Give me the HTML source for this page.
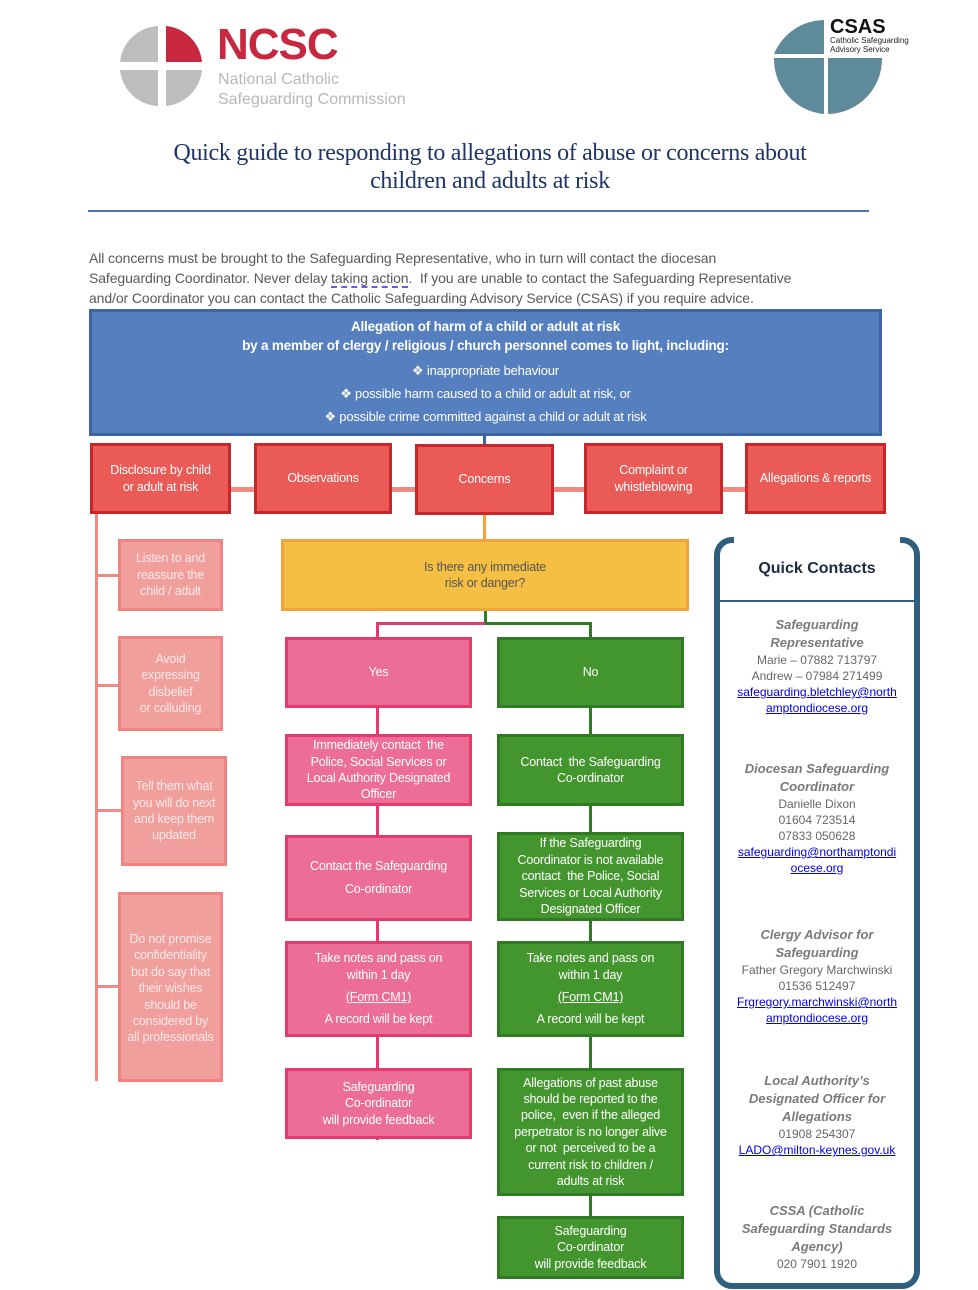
<!DOCTYPE html>
<html><head><meta charset="utf-8"><style>
*{margin:0;padding:0;box-sizing:border-box}
body{width:978px;height:1290px;position:relative;background:#fff;font-family:"Liberation Sans",sans-serif;overflow:hidden}
.a{position:absolute}
.b{position:absolute;display:flex;align-items:center;justify-content:center;text-align:center;color:#fff;font-size:12.5px;line-height:16.4px;letter-spacing:-0.2px}
.r{background:#ea5b58;border:3px solid #c5282a}
.lp{background:#f09f9c;border:3px solid #f08483;color:#fde9e8}
.pk{background:#ec6e96;border:3px solid #e63a6d}
.gr{background:#43952d;border:3px solid #2f7a22}
.l{position:absolute}
.qc{position:absolute;left:0;right:0;text-align:center;font-size:12px;line-height:16px;color:#666}
.qc i{font-weight:bold;color:#7a7a7a;font-size:13px;line-height:18px}
.qc u{color:#0000ee}
</style></head><body>
<svg class="a" style="left:118px;top:26px" width="90" height="80" viewBox="0 0 90 80">
<path d="M40 0 A40 40 0 0 0 2 36 L40 36 Z" fill="#bdbdbf"/>
<path d="M48 0 A40 40 0 0 1 84 36 L48 36 Z" fill="#c8283f"/>
<path d="M2 44 A40 40 0 0 0 40 80 L40 44 Z" fill="#bdbdbf"/>
<path d="M48 44 L84 44 A40 40 0 0 1 48 80 Z" fill="#bdbdbf"/>
</svg>
<div class="a" style="left:217px;top:20px;font-size:44px;font-weight:bold;color:#c8283f;letter-spacing:-1px">NCSC</div>
<div class="a" style="left:218px;top:70px;font-size:16px;line-height:20px;color:#b8b8b8">National Catholic<br>Safeguarding Commission</div>
<svg class="a" style="left:772px;top:18px" width="112" height="98" viewBox="0 0 112 98">
<path d="M52 2 A55 55 0 0 0 2 36 L52 36 Z" fill="#5f8a9a"/>
<path d="M2 40 L52 40 L52 96 A55 55 0 0 1 2 40 Z" fill="#5f8a9a"/>
<path d="M56 40 L110 40 A55 55 0 0 1 56 96 Z" fill="#5f8a9a"/>
</svg>
<div class="a" style="left:830px;top:16px;font-size:20px;font-weight:bold;color:#111">CSAS</div>
<div class="a" style="left:830px;top:37px;font-size:8px;line-height:8.5px;color:#222">Catholic Safeguarding<br>Advisory Service</div>
<div class="a" style="left:80px;width:820px;top:139px;text-align:center;font-family:'Liberation Serif',serif;font-size:24px;line-height:28px;color:#1f3566;letter-spacing:-0.3px">Quick guide to responding to allegations of abuse or concerns about<br>children and adults at risk</div>
<div class="a" style="left:88px;top:210px;width:781px;height:2px;background:#4f73b8"></div>
<div class="a" style="left:89px;top:248px;font-size:14px;line-height:20px;color:#595959;width:800px;letter-spacing:-0.1px">All concerns must be brought to the Safeguarding Representative, who in turn will contact the diocesan<br>Safeguarding Coordinator. Never delay <span style="border-bottom:2px dashed #6b5ce7">taking action</span>.&nbsp; If you are unable to contact the Safeguarding Representative<br>and/or Coordinator you can contact the Catholic Safeguarding Advisory Service (CSAS) if you require advice.</div>
<div class="b" style="left:89px;top:309px;width:793px;height:127px;background:#557fbf;border:3px solid #3f64a6;flex-direction:column;font-size:13.5px;line-height:18px">
<div style="font-weight:bold;line-height:19px">Allegation of harm of a child or adult at risk<br>by a member of clergy / religious / church personnel comes to light, including:</div>
<div style="margin-top:4px;line-height:23px;font-size:13px">❖ inappropriate behaviour<br>❖ possible harm caused to a child or adult at risk, or<br>❖ possible crime committed against a child or adult at risk</div>
</div>
<div class="l" style="left:483px;top:436px;width:3px;height:10px;background:#3f64a6"></div>
<div class="l" style="left:228px;top:487px;width:520px;height:5px;background:#f08a85"></div>
<div class="l" style="left:483px;top:513px;width:3px;height:28px;background:#f2a33a"></div>
<div class="l" style="left:95px;top:513px;width:3px;height:568px;background:#f08a85"></div>
<div class="l" style="left:95px;top:574px;width:25px;height:3px;background:#f08a85"></div>
<div class="l" style="left:95px;top:684px;width:25px;height:3px;background:#f08a85"></div>
<div class="l" style="left:95px;top:809px;width:28px;height:3px;background:#f08a85"></div>
<div class="l" style="left:95px;top:985px;width:25px;height:3px;background:#f08a85"></div>
<div class="l" style="left:484px;top:610px;width:3px;height:14px;background:#2f7a22"></div>
<div class="l" style="left:376px;top:622px;width:109px;height:3px;background:#e63a6d"></div>
<div class="l" style="left:376px;top:622px;width:3px;height:18px;background:#e63a6d"></div>
<div class="l" style="left:485px;top:622px;width:107px;height:3px;background:#2f7a22"></div>
<div class="l" style="left:589px;top:622px;width:3px;height:18px;background:#2f7a22"></div>
<div class="l" style="left:376px;top:700px;width:3px;height:440px;background:#e63a6d"></div>
<div class="l" style="left:589px;top:700px;width:3px;height:520px;background:#2f7a22"></div>
<div class="b r" style="left:90px;top:443px;width:141px;height:71px">Disclosure by child<br>or adult at risk</div>
<div class="b r" style="left:254px;top:443px;width:138px;height:71px">Observations</div>
<div class="b r" style="left:415px;top:444px;width:139px;height:71px">Concerns</div>
<div class="b r" style="left:584px;top:443px;width:139px;height:71px">Complaint or<br>whistleblowing</div>
<div class="b r" style="left:745px;top:443px;width:141px;height:71px">Allegations &amp; reports</div>
<div class="b lp" style="left:118px;top:539px;width:105px;height:72px">Listen to and<br>reassure the<br>child / adult</div>
<div class="b lp" style="left:118px;top:636px;width:105px;height:95px">Avoid<br>expressing<br>disbelief<br>or colluding</div>
<div class="b lp" style="left:121px;top:756px;width:106px;height:110px">Tell them what<br>you will do next<br>and keep them<br>updated</div>
<div class="b lp" style="left:118px;top:892px;width:105px;height:190px;align-items:flex-start;padding-top:36px">Do not promise<br>confidentiality<br>but do say that<br>their wishes<br>should be<br>considered by<br>all professionals</div>
<div class="b" style="left:281px;top:539px;width:408px;height:72px;background:#f4bf42;border:3px solid #f2a33a;color:#555">Is there any immediate<br>risk or danger?</div>
<div class="b pk" style="left:285px;top:637px;width:187px;height:71px">Yes</div>
<div class="b pk" style="left:285px;top:734px;width:187px;height:72px">Immediately contact &nbsp;the<br>Police, Social Services or<br>Local Authority Designated<br>Officer</div>
<div class="b pk" style="left:285px;top:835px;width:187px;height:86px;line-height:23px">Contact the Safeguarding<br>Co-ordinator</div>
<div class="b pk" style="left:285px;top:941px;width:187px;height:96px;flex-direction:column"><div>Take notes and pass on<br>within 1 day</div><div style="margin-top:6px;text-decoration:underline">(Form CM1)</div><div style="margin-top:6px">A record will be kept</div></div>
<div class="b pk" style="left:285px;top:1068px;width:187px;height:71px">Safeguarding<br>Co-ordinator<br>will provide feedback</div>
<div class="b gr" style="left:497px;top:637px;width:187px;height:71px">No</div>
<div class="b gr" style="left:497px;top:734px;width:187px;height:72px">Contact &nbsp;the Safeguarding<br>Co-ordinator</div>
<div class="b gr" style="left:497px;top:832px;width:187px;height:89px">If the Safeguarding<br>Coordinator is not available<br>contact &nbsp;the Police, Social<br>Services or Local Authority<br>Designated Officer</div>
<div class="b gr" style="left:497px;top:941px;width:187px;height:96px;flex-direction:column"><div>Take notes and pass on<br>within 1 day</div><div style="margin-top:6px;text-decoration:underline">(Form CM1)</div><div style="margin-top:6px">A record will be kept</div></div>
<div class="b gr" style="left:497px;top:1068px;width:187px;height:128px">Allegations of past abuse<br>should be reported to the<br>police, &nbsp;even if the alleged<br>perpetrator is no longer alive<br>or not &nbsp;perceived to be a<br>current risk to children /<br>adults at risk</div>
<div class="b gr" style="left:497px;top:1216px;width:187px;height:63px">Safeguarding<br>Co-ordinator<br>will provide feedback</div>
<div class="a" style="left:714px;top:537px;width:206px;height:752px;border:6px solid #2e5f7e;border-radius:18px">
<div class="a" style="left:0;right:0;top:17px;text-align:center;font-weight:bold;font-size:16px;color:#1b2a45">Quick Contacts</div>
<div class="a" style="left:0;right:0;top:57px;height:2px;background:#2e5f7e"></div>
<div class="qc" style="top:73px"><i>Safeguarding<br>Representative</i><br>Marie – 07882 713797<br>Andrew – 07984 271499<br><u>safeguarding.bletchley@north</u><br><u>amptondiocese.org</u></div>
<div class="qc" style="top:217px"><i>Diocesan Safeguarding<br>Coordinator</i><br>Danielle Dixon<br>01604 723514<br>07833 050628<br><u>safeguarding@northamptondi</u><br><u>ocese.org</u></div>
<div class="qc" style="top:383px"><i>Clergy Advisor for<br>Safeguarding</i><br>Father Gregory Marchwinski<br>01536 512497<br><u>Frgregory.marchwinski@north</u><br><u>amptondiocese.org</u></div>
<div class="qc" style="top:529px"><i>Local Authority’s<br>Designated Officer for<br>Allegations</i><br>01908 254307<br><u>LADO@milton-keynes.gov.uk</u></div>
<div class="qc" style="top:659px"><i>CSSA (Catholic<br>Safeguarding Standards<br>Agency)</i><br>020 7901 1920</div>
</div>
<div class="a" style="left:734px;top:535px;width:166px;height:10px;background:#fff"></div>
</body></html>
